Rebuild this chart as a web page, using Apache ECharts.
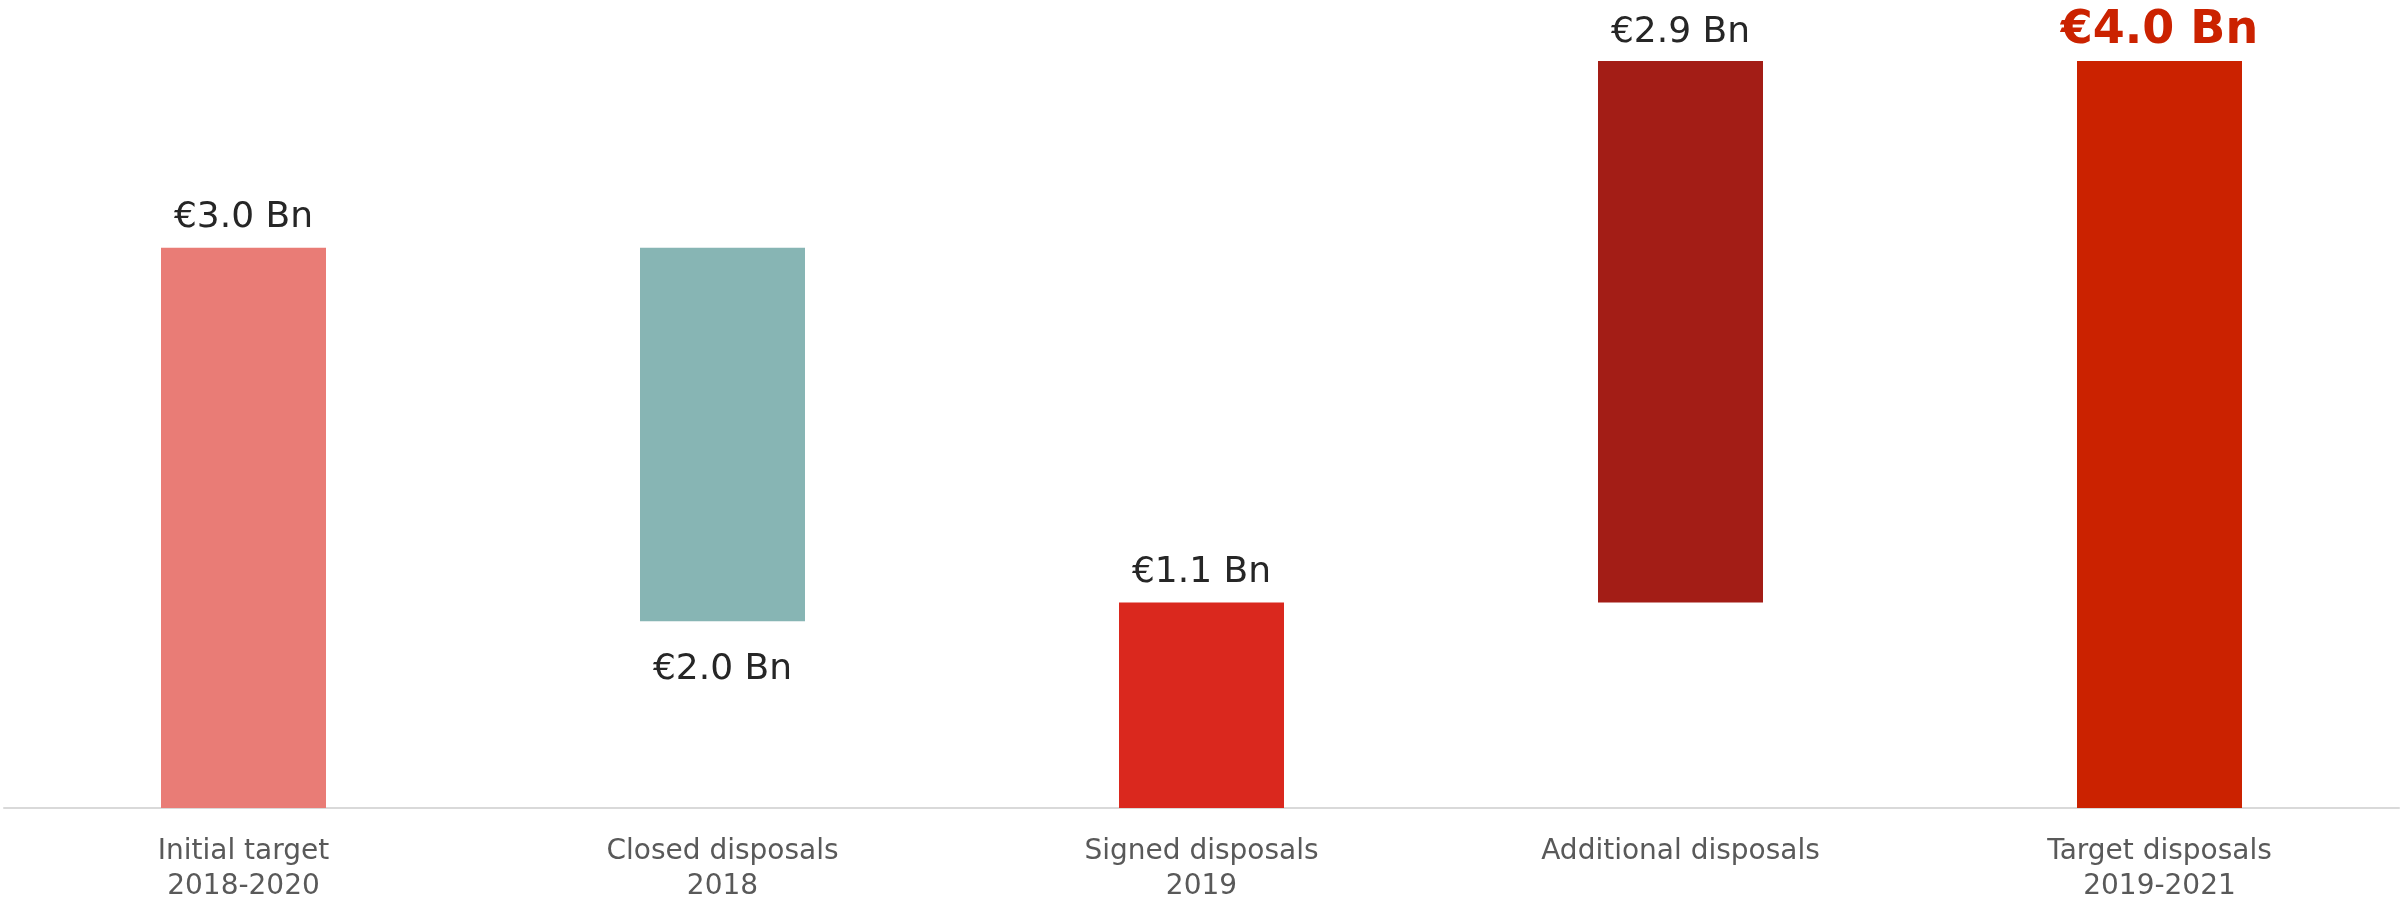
<!DOCTYPE html>
<html><head><meta charset="utf-8">
<script src="https://cdn.jsdelivr.net/npm/echarts@6/dist/echarts.min.js"></script>
<style>html,body{margin:0;padding:0;background:#fff}#c{width:2400px;height:908px}</style>
</head><body><div id="c"></div>
<script>
const categories = ['Initial target\n2018-2020', 'Closed disposals\n2018', 'Signed disposals\n2019', 'Additional disposals', 'Target disposals\n2019-2021'];
const baseValues = [0, 1.0, 0, 1.1, 0];
const barValues = [3.0, 2.0, 1.1, 2.9, 4.0];
const labelTexts = ['€3.0 Bn', '€2.0 Bn', '€1.1 Bn', '€2.9 Bn', '€4.0 Bn'];
const barColors = ['#E97C76', '#87B5B4', '#DA281E', '#A31D16', '#CB2200'];

const font = '"DejaVu Sans", sans-serif';
const chart = echarts.init(document.getElementById('c'), null, {renderer: 'canvas'});
chart.setOption({
  animation: false,
  grid: {left: 4, right: 1, top: 5, bottom: 100},
  xAxis: {
    type: 'category', data: categories,
    axisLine: {lineStyle: {color: '#D9D9D9', width: 2}},
    axisTick: {show: false},
    axisLabel: {color: '#595959', fontSize: 28, lineHeight: 35, margin: 26, fontFamily: font}
  },
  yAxis: {type: 'value', min: 0, max: 4.3, show: false, splitLine: {show: false}},
  series: [
    {type: 'bar', stack: 's', barWidth: 165, data: baseValues, itemStyle: {color: 'transparent'}, silent: true},
    {type: 'bar', stack: 's', barWidth: 165,
     data: barValues.map((v, i) => {
       const isLast = i === barValues.length - 1;
       return {
         value: v,
         itemStyle: {color: barColors[i]},
         label: {
           show: true,
           position: i === 1 ? 'bottom' : 'top',
           distance: i === 1 ? 30 : (isLast ? 7 : (i === 3 ? 10 : 12)),
           formatter: labelTexts[i],
           color: isLast ? '#CB2200' : '#262626',
           fontSize: isLast ? 46 : 36,
           fontWeight: isLast ? 'bold' : 'normal',
           fontFamily: font
         }
       };
     })
    }
  ]
});
</script></body></html>
